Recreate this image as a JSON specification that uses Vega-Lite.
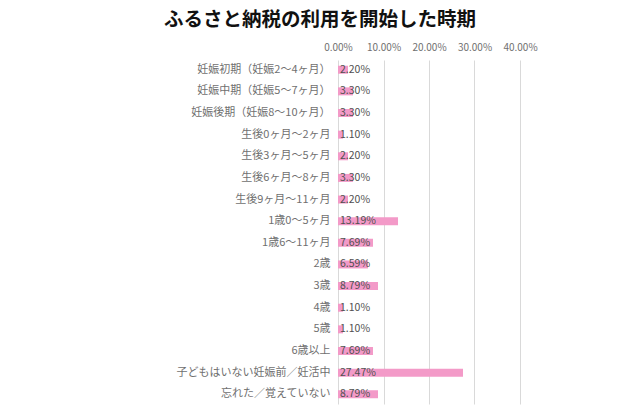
{
  "$schema": "https://vega.github.io/schema/vega-lite/v6.json",
  "autosize": "none",
  "width": 182,
  "height": 344,
  "padding": {"left": 338, "top": 60, "right": 120, "bottom": 1},
  "background": "white",
  "title": {
    "text": "ふるさと納税の利用を開始した時期",
    "font": "Noto Sans CJK JP",
    "fontSize": 19.5,
    "fontWeight": "bold",
    "color": "#111111",
    "anchor": "start",
    "frame": "group",
    "dx": -174,
    "offset": 12
  },
  "config": {
    "view": {"stroke": null},
    "font": "Noto Sans CJK JP"
  },
  "data": {
    "values": [
      {"cat": "妊娠初期（妊娠2～4ヶ月）", "v": 0.022},
      {"cat": "妊娠中期（妊娠5～7ヶ月）", "v": 0.033},
      {"cat": "妊娠後期（妊娠8～10ヶ月）", "v": 0.033},
      {"cat": "生後0ヶ月～2ヶ月", "v": 0.011},
      {"cat": "生後3ヶ月～5ヶ月", "v": 0.022},
      {"cat": "生後6ヶ月～8ヶ月", "v": 0.033},
      {"cat": "生後9ヶ月～11ヶ月", "v": 0.022},
      {"cat": "1歳0～5ヶ月", "v": 0.1319},
      {"cat": "1歳6～11ヶ月", "v": 0.0769},
      {"cat": "2歳", "v": 0.0659},
      {"cat": "3歳", "v": 0.0879},
      {"cat": "4歳", "v": 0.011},
      {"cat": "5歳", "v": 0.011},
      {"cat": "6歳以上", "v": 0.0769},
      {"cat": "子どもはいない妊娠前／妊活中", "v": 0.2747},
      {"cat": "忘れた／覚えていない", "v": 0.0879}
    ]
  },
  "encoding": {
    "y": {
      "field": "cat",
      "type": "nominal",
      "sort": null,
      "axis": {
        "title": null,
        "domain": false,
        "ticks": false,
        "labelColor": "#707070",
        "labelFontSize": 11,
        "labelPadding": 8,
        "labelLimit": 300
      },
      "scale": {"paddingInner": 0.6, "paddingOuter": 0.25}
    }
  },
  "layer": [
    {
      "mark": {"type": "bar", "color": "#F39AC8", "height": 8},
      "encoding": {
        "x": {
          "field": "v",
          "type": "quantitative",
          "scale": {"domain": [0, 0.4]},
          "axis": {
            "orient": "top",
            "title": null,
            "format": ".2%",
            "values": [0, 0.1, 0.2, 0.3, 0.4],
            "domain": false,
            "ticks": false,
            "grid": true,
            "gridColor": "#d9d9d9",
            "labelColor": "#707070",
            "labelFontSize": 10,
            "labelPadding": 8,
            "labelOverlap": false,
            "labelFlush": false
          }
        }
      }
    },
    {
      "mark": {"type": "text", "align": "left", "baseline": "middle", "dx": 2, "fontSize": 10.5, "color": "#505050"},
      "encoding": {
        "x": {"datum": 0, "type": "quantitative"},
        "text": {"field": "v", "type": "quantitative", "format": ".2%"}
      }
    }
  ]
}
